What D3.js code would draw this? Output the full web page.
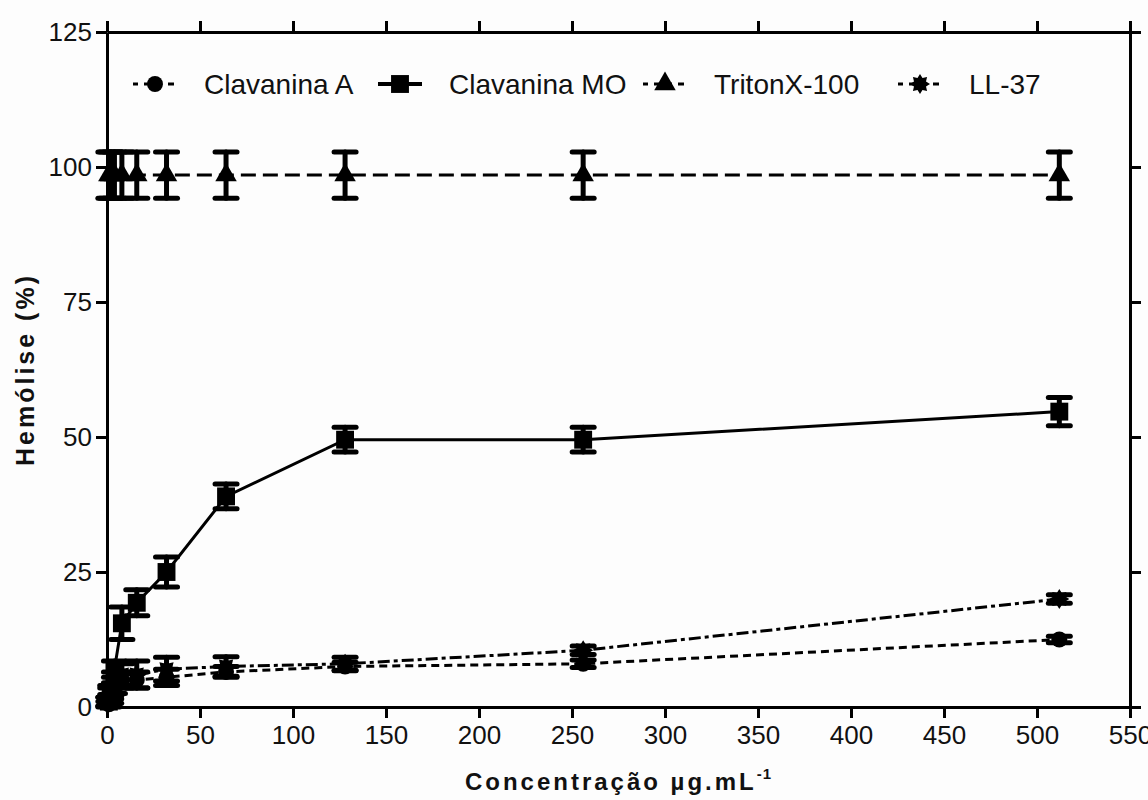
<!DOCTYPE html>
<html>
<head>
<meta charset="utf-8">
<script src="https://cdn.jsdelivr.net/npm/d3@7"></script>
<style>
  body { margin: 0; background: #fdfdfd; }
  text { font-family: "Liberation Sans", Arial, sans-serif; fill: #111; }
</style>
</head>
<body>
<svg id="chart" width="1148" height="800"></svg>
<script>
// concentrations (µg/mL) and % hemolysis
const concentrations = [1, 2, 4, 8, 16, 32, 64, 128, 256, 512];
const clavaninaA    = [0.5, 1.5, 3.5, 5, 5, 5.5, 6.5, 7.5, 8, 12.5];
const clavaninaAErr = [0.5, 0.8, 1, 1.5, 1.5, 1.5, 1, 0.8, 0.7, 0.6];
const clavaninaMO    = [1, 3, 7, 15.5, 19.3, 25, 39, 49.5, 49.5, 54.7];
const clavaninaMOErr = [0.8, 1, 1.5, 3, 2.4, 2.8, 2.3, 2.3, 2.3, 2.6];
const triton    = [98.5, 98.5, 98.5, 98.5, 98.5, 98.5, 98.5, 98.5, 98.5, 98.5];
const tritonErr = [4.3, 4.3, 4.3, 4.3, 4.3, 4.3, 4.3, 4.3, 4.3, 4.3];
const ll37    = [1, 2.5, 5, 6, 6, 7, 7.5, 8, 10.5, 20];
const ll37Err = [0.8, 1, 1.5, 2, 2.5, 2.2, 1.8, 1.2, 0.8, 0.8];

const xTicks = [0, 50, 100, 150, 200, 250, 300, 350, 400, 450, 500, 550];
const yTicks = [0, 25, 50, 75, 100, 125];
const seriesNames = ["Clavanina A", "Clavanina MO", "TritonX-100", "LL-37"];

const width = 1148, height = 800;
const margin = { top: 32, right: 18, bottom: 93, left: 107 };
const legendX = [155, 400, 665, 920]; // symbol centres
const legendY = 84;

const starPath = () => {
  const pts = d3.range(16).map(i => {
    const r = i % 2 ? 6.5 : 10;
    const a = i * Math.PI / 8;
    return [r * Math.sin(a), -r * Math.cos(a)];
  });
  return "M" + pts.join("L") + "Z";
};

const series = [
  { name: seriesNames[0], values: clavaninaA, err: clavaninaAErr, dash: "8,5",
    marker: d3.symbol().type(d3.symbolCircle).size(200)() },
  { name: seriesNames[1], values: clavaninaMO, err: clavaninaMOErr, dash: null,
    marker: d3.symbol().type(d3.symbolSquare).size(320)() },
  { name: seriesNames[2], values: triton, err: tritonErr, dash: "15,7",
    marker: d3.symbol().type(d3.symbolTriangle).size(200)() },
  { name: seriesNames[3], values: ll37, err: ll37Err, dash: "12,4,4,4",
    marker: starPath() }
];

const svg = d3.select("#chart");

const x = d3.scaleLinear().domain([0, 550]).range([margin.left, width - margin.right]);
const y = d3.scaleLinear().domain([0, 125]).range([height - margin.bottom, margin.top]);

/* ------- AXES -------*/
function styleAxis(g) {
  g.selectAll("path.domain").attr("stroke", "#000").attr("stroke-width", 3);
  g.selectAll(".tick line").attr("stroke", "#000").attr("stroke-width", 3);
  g.selectAll(".tick text").attr("font-size", 26).attr("fill", "#111")
    .style("font-family", '"Liberation Sans", Arial, sans-serif');
}

svg.append("g")
  .attr("transform", `translate(0,${y(0)})`)
  .call(d3.axisBottom(x).tickValues(xTicks).tickSize(11).tickSizeOuter(0).tickPadding(8))
  .call(styleAxis);

svg.append("g")
  .attr("transform", `translate(0,${y(125)})`)
  .call(d3.axisTop(x).tickValues(xTicks).tickSize(11).tickSizeOuter(0).tickFormat(""))
  .call(styleAxis);

svg.append("g")
  .attr("transform", `translate(${x(0)},0)`)
  .call(d3.axisLeft(y).tickValues(yTicks).tickSize(11).tickSizeOuter(0).tickPadding(4))
  .call(styleAxis);

svg.append("g")
  .attr("transform", `translate(${x(550)},0)`)
  .call(d3.axisRight(y).tickValues(yTicks).tickSize(11).tickSizeOuter(0).tickFormat(""))
  .call(styleAxis);

/* ------- AXIS TITLES -------*/
const xTitle = svg.append("text")
  .attr("x", (x(0) + x(550)) / 2)
  .attr("y", 790)
  .attr("text-anchor", "middle")
  .attr("font-size", 24)
  .attr("font-weight", "bold")
  .attr("letter-spacing", 3);
xTitle.append("tspan").text("Concentração µg.mL");
xTitle.append("tspan").attr("font-size", 15).attr("dy", -11).attr("letter-spacing", 1).text("-1");

svg.append("text")
  .attr("transform", `translate(34,${(y(0) + y(125)) / 2}) rotate(-90)`)
  .attr("text-anchor", "middle")
  .attr("font-size", 25)
  .attr("font-weight", "bold")
  .attr("letter-spacing", 3)
  .text("Hemólise (%)");

/* ------- SERIES -------*/
const line = d3.line()
  .x((d, i) => x(concentrations[i]))
  .y(d => y(d));

const plot = svg.append("g");

series.forEach(s => {
  const g = plot.append("g");

  g.append("path")
    .datum(s.values)
    .attr("d", line)
    .attr("fill", "none")
    .attr("stroke", "#000")
    .attr("stroke-width", 3)
    .attr("stroke-dasharray", s.dash);

  const pts = s.values.map((v, i) => ({ c: concentrations[i], v: v, e: s.err[i] }));

  const bars = g.selectAll("g.err").data(pts).enter().append("g")
    .attr("class", "err")
    .attr("stroke", "#000")
    .attr("stroke-width", 5)
    .attr("stroke-linecap", "round");
  bars.append("line")
    .attr("x1", d => x(d.c)).attr("x2", d => x(d.c))
    .attr("y1", d => y(d.v - d.e)).attr("y2", d => y(d.v + d.e));
  bars.append("line")
    .attr("x1", d => x(d.c) - 11).attr("x2", d => x(d.c) + 11)
    .attr("y1", d => y(d.v + d.e)).attr("y2", d => y(d.v + d.e));
  bars.append("line")
    .attr("x1", d => x(d.c) - 11).attr("x2", d => x(d.c) + 11)
    .attr("y1", d => y(d.v - d.e)).attr("y2", d => y(d.v - d.e));

  g.selectAll("path.marker").data(pts).enter().append("path")
    .attr("class", "marker")
    .attr("d", s.marker)
    .attr("transform", d => `translate(${x(d.c)},${y(d.v)})`)
    .attr("fill", "#000");
});

/* ------- LEGEND -------*/
const legend = svg.append("g");
series.forEach((s, i) => {
  const cx = legendX[i];
  legend.append("line")
    .attr("x1", cx - 22).attr("x2", cx + 22)
    .attr("y1", legendY).attr("y2", legendY)
    .attr("stroke", "#000")
    .attr("stroke-width", s.dash ? 3 : 4)
    .attr("stroke-dasharray", s.dash ? "6,6" : null)
    .attr("stroke-dashoffset", s.dash ? 1 : null);
  legend.append("path")
    .attr("d", s.marker)
    .attr("transform", `translate(${cx},${legendY})`)
    .attr("fill", "#000");
  legend.append("text")
    .attr("x", cx + 49)
    .attr("y", legendY + 10)
    .attr("font-size", 28)
    .text(s.name);
});
</script>
</body>
</html>
